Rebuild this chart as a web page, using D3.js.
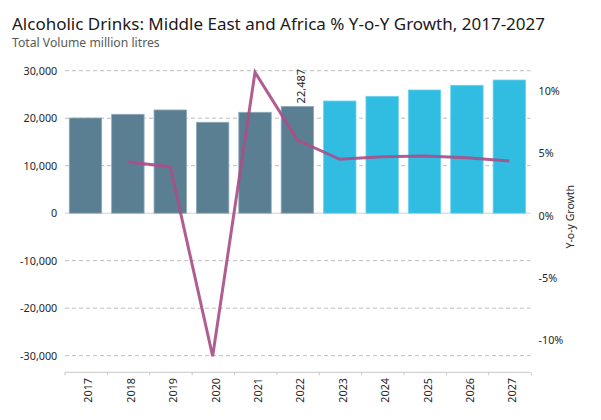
<!DOCTYPE html>
<html>
<head>
<meta charset="utf-8">
<script src="https://cdn.jsdelivr.net/npm/d3@7"></script>
<style>
  body { margin: 0; background: #fff; }
  svg { font-family: "Noto Sans", sans-serif; }
</style>
</head>
<body>
<div id="wrapper"></div>
<script>
const years = ["2017", "2018", "2019", "2020", "2021", "2022", "2023", "2024", "2025", "2026", "2027"];
const volume = [20040, 20820, 21730, 19140, 21240, 22487, 23620, 24610, 25940, 26930, 28040];
const growth = [null, 4.12, 3.74, -11.5, 11.33, 5.88, 4.33, 4.54, 4.6, 4.46, 4.2];
const leftTicks = [-30000, -20000, -10000, 0, 10000, 20000, 30000];
const rightTicks = [-10, -5, 0, 5, 10];
const firstForecast = "2023";
const labelledYear = "2022";

// Excel style: plain hyphen for negatives
const fmtThousands = d => (d < 0 ? "-" : "") + d3.format(",")(Math.abs(d));

function drawChart() {
    const dimensions = {
        width: 601,
        height: 420,
        plotLeft: 64.3,
        plotRight: 530.5,
        plotTop: 70.7,
        plotBottom: 372.3,
    };

    const svg = d3.select("#wrapper")
        .append("svg")
            .attr("width", dimensions.width)
            .attr("height", dimensions.height);

    // titles
    svg.append("text")
        .attr("x", 12)
        .attr("y", 29.5)
        .attr("font-size", 17)
        .attr("fill", "#1a1a1a")
        .text("Alcoholic Drinks: Middle East and Africa % Y-o-Y Growth, 2017-2027");

    svg.append("text")
        .attr("x", 12)
        .attr("y", 46.7)
        .attr("font-size", 12.2)
        .attr("fill", "#595959")
        .text("Total Volume million litres");

    const xScale = d3.scaleBand()
        .domain(years)
        .range([dimensions.plotLeft, dimensions.plotRight])
        .paddingInner(0.235)
        .paddingOuter(0.1175);

    const leftMin = -33500, leftMax = 30000;
    const yScale = d3.scaleLinear()
        .domain([leftMin, leftMax])
        .range([dimensions.plotBottom, dimensions.plotTop]);

    // secondary axis with its zero lined up with the primary zero
    const rightMax = 11.455;
    const yRight = d3.scaleLinear()
        .domain([rightMax * leftMin / leftMax, rightMax])
        .range([dimensions.plotBottom, dimensions.plotTop]);

    // gridlines
    svg.append("g")
        .selectAll("line")
        .data(leftTicks.filter(t => t !== 0))
        .join("line")
            .attr("x1", 65)
            .attr("x2", dimensions.plotRight)
            .attr("y1", d => yScale(d))
            .attr("y2", d => yScale(d))
            .attr("stroke", "#bdbdbd")
            .attr("stroke-width", 1)
            .attr("stroke-dasharray", "4,3");

    svg.append("line")
        .attr("x1", 65)
        .attr("x2", dimensions.plotRight)
        .attr("y1", yScale(0))
        .attr("y2", yScale(0))
        .attr("stroke", "#e0e0e0")
        .attr("stroke-width", 1.5);

    // bars
    const forecastIndex = years.indexOf(firstForecast);
    svg.append("g")
        .selectAll("rect")
        .data(years)
        .join("rect")
            .attr("x", d => xScale(d))
            .attr("width", xScale.bandwidth())
            .attr("y", (d, i) => yScale(volume[i]))
            .attr("height", (d, i) => yScale(0) - yScale(volume[i]))
            .attr("fill", (d, i) => i >= forecastIndex ? "#31bde1" : "#5b7f92")
            .attr("stroke", (d, i) => i >= forecastIndex ? "#6fd1ec" : "#8fa9b8")
            .attr("stroke-width", 0.8);

    // data label
    const li = years.indexOf(labelledYear);
    svg.append("text")
        .attr("transform", `translate(${xScale(labelledYear) + xScale.bandwidth() / 2}, ${yScale(volume[li]) - 3}) rotate(-90)`)
        .attr("dy", 7.5)
        .attr("font-size", 11)
        .attr("fill", "#262626")
        .text(d3.format(",")(volume[li]));

    // growth line
    const lineGenerator = d3.line()
        .defined(d => d.g !== null)
        .x(d => xScale(d.year) + xScale.bandwidth() / 2)
        .y(d => yRight(d.g));

    svg.append("path")
        .attr("d", lineGenerator(years.map((year, i) => ({ year, g: growth[i] }))))
        .attr("fill", "none")
        .attr("stroke", "#a94f88")
        .attr("stroke-opacity", 0.92)
        .attr("stroke-width", 3);

    // left axis
    const yAxis = svg.append("g")
        .attr("transform", `translate(${dimensions.plotLeft}, 0)`)
        .call(d3.axisLeft(yScale).tickValues(leftTicks).tickSize(0).tickPadding(7).tickFormat(fmtThousands));
    yAxis.select(".domain").remove();
    yAxis.selectAll("text")
        .attr("font-family", "Noto Sans")
        .attr("font-size", 10.8)
        .attr("fill", "#262626");

    // right axis
    const rAxis = svg.append("g")
        .attr("transform", `translate(${dimensions.plotRight}, 0)`)
        .call(d3.axisRight(yRight).tickValues(rightTicks).tickSize(0).tickPadding(8).tickFormat(d => (d < 0 ? "-" : "") + Math.abs(d) + "%"));
    rAxis.select(".domain").remove();
    rAxis.selectAll("text")
        .attr("font-family", "Noto Sans")
        .attr("font-size", 10.8)
        .attr("fill", "#262626")
        .attr("dy", "0.55em");

    svg.append("text")
        .attr("transform", `translate(570.7, 216.7) rotate(-90)`)
        .attr("text-anchor", "middle")
        .attr("dy", "0.35em")
        .attr("font-size", 10.5)
        .attr("fill", "#262626")
        .text("Y-o-y Growth");

    // bottom axis
    svg.append("line")
        .attr("x1", 65)
        .attr("x2", dimensions.plotRight)
        .attr("y1", dimensions.plotBottom)
        .attr("y2", dimensions.plotBottom)
        .attr("stroke", "#c8c8c8")
        .attr("stroke-width", 1);

    const step = xScale.step();
    const boundaries = years.map(d => xScale(d) - (step - xScale.bandwidth()) / 2)
        .concat([xScale(years[years.length - 1]) + xScale.bandwidth() + (step - xScale.bandwidth()) / 2]);
    svg.append("g")
        .selectAll("line")
        .data(boundaries)
        .join("line")
            .attr("x1", d => d + 0.7)
            .attr("x2", d => d + 0.7)
            .attr("y1", dimensions.plotBottom)
            .attr("y2", dimensions.plotBottom + 3)
            .attr("stroke", "#c8c8c8");

    svg.append("g")
        .selectAll("text")
        .data(years)
        .join("text")
            .attr("transform", d => `translate(${xScale(d) + xScale.bandwidth() / 2}, 378) rotate(-90)`)
            .attr("text-anchor", "end")
            .attr("dy", 7)
            .attr("font-size", 10.8)
            .attr("fill", "#262626")
            .text(d => d);
}

drawChart();
</script>
</body>
</html>
